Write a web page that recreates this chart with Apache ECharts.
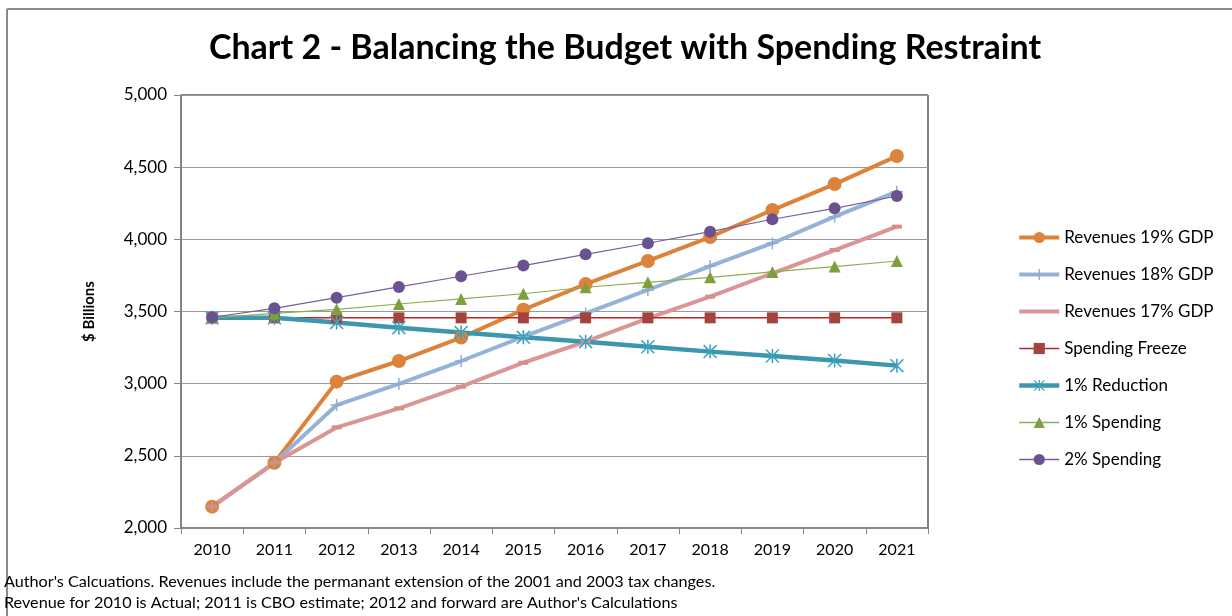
<!DOCTYPE html>
<html>
<head>
<meta charset="utf-8">
<title>Chart 2 - Balancing the Budget with Spending Restraint</title>
<script src="https://cdn.jsdelivr.net/npm/echarts@6/dist/echarts.min.js"></script>
<style>
  html, body { margin: 0; padding: 0; background: #fff; }
  #main { width: 1232px; height: 616px; }
</style>
</head>
<body>
<div id="main"></div>
<script>
// data ($ billions)
const years = ['2010', '2011', '2012', '2013', '2014', '2015', '2016', '2017', '2018', '2019', '2020', '2021'];
const rev19 = [2148, 2452, 3014, 3157, 3319, 3512, 3690, 3850, 4016, 4203, 4383, 4577];
const rev18 = [2148, 2452, 2852, 2998, 3157, 3326, 3487, 3649, 3815, 3973, 4157, 4330];
const rev17 = [2148, 2452, 2697, 2829, 2979, 3145, 3291, 3453, 3603, 3765, 3926, 4088];
const freeze = [3456, 3456, 3456, 3456, 3456, 3456, 3456, 3456, 3456, 3456, 3456, 3456];
const reduce1 = [3456, 3456, 3423, 3388, 3354, 3321, 3291, 3256, 3222, 3192, 3160, 3125];
const spend1 = [3456, 3487, 3515, 3552, 3587, 3623, 3668, 3702, 3737, 3774, 3811, 3850];
const spend2 = [3460, 3522, 3596, 3670, 3744, 3818, 3896, 3973, 4053, 4139, 4215, 4300];

const font = 'Lato, "Open Sans", sans-serif';

// marker shapes (filled paths, so strokes are built from thin bars)
const plusPath = 'path://M4.4,0H5.6V10H4.4Z M0,4.4H10V5.6H0Z';
const starPath = 'path://M4.45,0H5.55V10H4.45Z M0,0.75L0.75,0L10,9.25L9.25,10Z M9.25,0L10,0.75L0.75,10L0,9.25Z';
const dashPath = 'path://M0,0H10V3H0Z';

function line(name, data, color, width, symbol, size, markColor) {
  return {
    name: name,
    type: 'line',
    data: data,
    symbol: symbol,
    symbolSize: size,
    showAllSymbol: true,
    lineStyle: { color: color, width: width },
    itemStyle: { color: markColor || color, borderWidth: 0 },
    emphasis: { disabled: true },
    animation: false
  };
}

function legendItem(name, width, hideMark) {
  const it = { name: name, lineStyle: { width: width } };
  if (hideMark) it.itemStyle = { opacity: 0 };
  return it;
}

const chart = echarts.init(document.getElementById('main'));
chart.setOption({
  backgroundColor: '#fff',
  title: {
    text: 'Chart 2 - Balancing the Budget with Spending Restraint',
    left: 620,
    textAlign: 'center',
    top: 26,
    textStyle: { fontFamily: font, fontWeight: 'bold', fontSize: 34, color: '#000' }
  },
  grid: {
    left: 181, right: 304, top: 95, bottom: 88,
    show: true, borderColor: '#000', borderWidth: 1
  },
  legend: {
    orient: 'vertical',
    left: 1012,
    top: 224,
    itemWidth: 40,
    itemHeight: 14,
    itemGap: 20,
    textStyle: { fontFamily: font, fontSize: 17, color: '#000' },
    data: [
      legendItem('Revenues 19% GDP', 4),
      legendItem('Revenues 18% GDP', 4),
      legendItem('Revenues 17% GDP', 4, true),
      legendItem('Spending Freeze', 1.5),
      legendItem('1% Reduction', 4.5),
      legendItem('1% Spending', 1.5),
      legendItem('2% Spending', 1.5)
    ]
  },
  xAxis: {
    type: 'category',
    data: years,
    boundaryGap: true,
    axisLine: { lineStyle: { color: '#868686', width: 1.5 } },
    axisTick: { show: true, length: 6, interval: 0, lineStyle: { color: '#868686' } },
    axisLabel: { fontFamily: font, fontSize: 16, color: '#000', margin: 14 },
    splitLine: { show: false }
  },
  yAxis: {
    type: 'value',
    min: 2000,
    max: 5000,
    interval: 500,
    name: '$ Billions',
    nameLocation: 'middle',
    nameGap: 84,
    nameTextStyle: { fontFamily: font, fontWeight: 'bold', fontSize: 15, color: '#000' },
    axisLine: { show: true, lineStyle: { color: '#868686', width: 1.5 } },
    axisTick: { show: true, length: 7, lineStyle: { color: '#868686' } },
    axisLabel: {
      fontFamily: font, fontSize: 17, color: '#000', margin: 14,
      formatter: v => v.toLocaleString('en-US')
    },
    splitLine: { lineStyle: { color: '#9a9a9a', width: 1.2 } }
  },
  graphic: [
    { type: 'line', shape: { x1: 7, y1: 9, x2: 1232, y2: 9 }, style: { stroke: '#8a8a8a', lineWidth: 2 } },
    { type: 'line', shape: { x1: 7, y1: 9, x2: 7, y2: 616 }, style: { stroke: '#8a8a8a', lineWidth: 2 } },
    {
      type: 'text', left: 4, top: 571,
      style: {
        text: "Author's Calcuations. Revenues include the permanant extension of the 2001 and 2003 tax changes.\nRevenue for 2010 is Actual; 2011 is CBO estimate; 2012 and forward are Author's Calculations",
        font: '16.2px ' + font, fill: '#000', lineHeight: 21
      }
    }
  ],
  // same drawing order as the original: later series sit on top
  series: [
    line('Revenues 19% GDP', rev19, '#DD823B', 4, 'circle', 14, '#DD823B'),
    line('Revenues 18% GDP', rev18, '#95B3D7', 4, plusPath, 12, '#8FAAD3'),
    line('Revenues 17% GDP', rev17, '#D99694', 4, dashPath, [10, 4], '#D48F8D'),
    line('Spending Freeze', freeze, '#C0231F', 1.5, 'rect', 11, '#A5433F'),
    line('1% Reduction', reduce1, '#3A97AE', 4.5, starPath, 14, '#3CA2BC'),
    line('1% Spending', spend1, '#8AB14F', 1.2, 'triangle', 12, '#7F9F3F'),
    line('2% Spending', spend2, '#7A5D9E', 1.2, 'circle', 12, '#6A5290')
  ]
});
</script>
</body>
</html>
